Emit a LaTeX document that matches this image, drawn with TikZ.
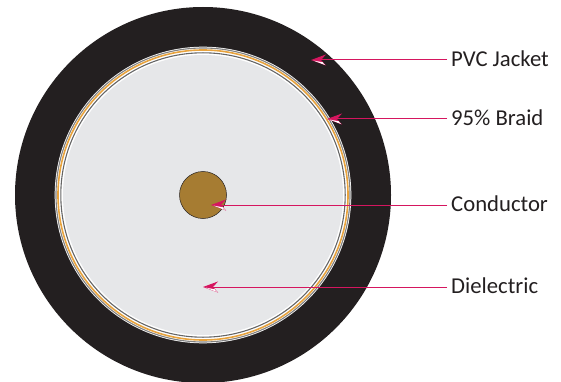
\documentclass[tikz,border=0pt]{standalone}
\usepackage{fontspec}
\setmainfont{Carlito}
\usetikzlibrary{arrows.meta}

\definecolor{jacketblack}{HTML}{231F20}
\definecolor{dielectricgrey}{HTML}{E6E7E9}
\definecolor{brass}{HTML}{A67C32}
\definecolor{braidorange}{HTML}{E8A33D}
\definecolor{leaderpink}{HTML}{D5165F}

\tikzset{
  partlabel/.style={anchor=west, inner sep=0pt, text=jacketblack, font=\fontsize{22.7}{24}\selectfont},
  leader/.style={draw=leaderpink, line width=1pt, shorten <=4pt,
    -{Stealth[length=15pt, width=11pt, inset=5pt, fill=leaderpink]}},
}

\begin{document}
\begin{tikzpicture}[x=1pt, y=-1pt]

  % 参数定义
  \def\Rjacket{188}
  \def\Rdiel{140}
  \def\Rcond{23.5}

  \useasboundingbox (0,0) rectangle (561,382);

  % 1. 同心圆
  \coordinate (centre) at (203,195);
  \fill[jacketblack] (centre) circle (\Rjacket);
  \fill[white] (centre) circle (148.3);
  \draw[gray, line width=1.1pt] (centre) circle (147);
  \draw[braidorange, line width=1.6pt] (centre) circle (145);
  \draw[gray!80!black, line width=1.1pt] (centre) circle (142.2);
  \fill[dielectricgrey] (centre) circle (\Rdiel);
  \draw[jacketblack, line width=0.5pt, fill=brass] (centre) circle (\Rcond);

  % 2. 标注文字
  \node[partlabel] (jacket) at (451,59) {PVC Jacket};
  \node[partlabel] (braid) at (451,118) {95\% Braid};
  \node[partlabel] (conductor) at (451,204) {Conductor};
  \node[partlabel] (dielectric) at (451,286) {Dielectric};

  % 3. 箭头
  \coordinate (jackettip) at (311,60);
  \coordinate (braidtip) at (327,119);
  \coordinate (conductortip) at (211,205);
  \coordinate (dielectrictip) at (203,287);

  \foreach \part in {jacket, braid, conductor, dielectric} {
    \draw[leader] (\part.west |- \part tip) -- (\part tip);
    % 箭头下半的高光
    \fill[white] ([xshift=2.5pt, yshift=-0.6pt]\part tip) -- ++(9,1.6) -- ++(2.5,2.8) -- cycle;
  }

\end{tikzpicture}
\end{document}
